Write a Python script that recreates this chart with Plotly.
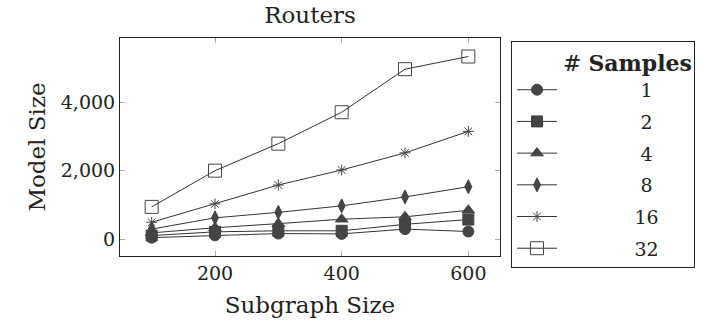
import plotly.graph_objects as go

subgraph_size = [100, 200, 300, 400, 500, 600]
samples_labels = ["1", "2", "4", "8", "16", "32"]
s1 = [40, 110, 160, 150, 290, 220]
s2 = [100, 210, 240, 240, 430, 570]
s4 = [180, 330, 450, 580, 650, 840]
s8 = [290, 620, 780, 970, 1230, 1530]
s16 = [490, 1030, 1580, 2020, 2520, 3150]
s32 = [940, 2000, 2790, 3710, 4970, 5340]
series = [s1, s2, s4, s8, s16, s32]

symbols = ["circle", "square", "triangle-up", "diamond-tall", "asterisk-open", "square-open"]
sizes = [11, 11, 11, 10, 9, 13]
FONT = "DejaVu Serif"
LINE = "#333333"
FILL = "#444444"
NB = "\u00a0"

fig = go.Figure()
for i, (lab, ys) in enumerate(zip(samples_labels, series)):
    pad = NB * (13 if len(lab) == 1 else 12)
    fig.add_trace(go.Scatter(
        x=subgraph_size, y=ys, mode="lines+markers",
        name=pad + lab,
        legendgroup=lab,
        line=dict(color=LINE, width=1),
        marker=dict(symbol=symbols[i], size=sizes[i], color=FILL,
                    line=dict(color=FILL, width=1)),
    ))

fig.update_layout(
    width=712, height=327,
    margin=dict(l=120, r=212, t=38, b=71),
    paper_bgcolor="white", plot_bgcolor="white",
    font=dict(family=FONT, size=19, color="#222222"),
    title=dict(text="Routers", x=(120 + 500) / 2 / 712, xanchor="center",
               y=1 - 15 / 327, yanchor="middle", font=dict(size=23)),
    showlegend=True,
    legend=dict(x=1.029, xanchor="left", y=0.985, yanchor="top",
                bordercolor="#222222", borderwidth=1, maxheight=300,
                title=dict(text=NB * 7 + "# <b>Samples</b>", font=dict(size=22)),
                traceorder="grouped", tracegroupgap=4,
                font=dict(size=19), itemwidth=40),
)
fig.update_xaxes(range=[50, 650], tickvals=[200, 400, 600],
                 ticks="inside", ticklen=5, tickcolor="#aaaaaa",
                 showline=True, linecolor="#222222", linewidth=1, mirror="ticks",
                 showgrid=False, zeroline=False,
                 title=dict(text="Subgraph Size", font=dict(size=23), standoff=14))
fig.update_yaxes(range=[-497, 5882], tickvals=[0, 2000, 4000], tickformat=",",
                 ticks="inside", ticklen=5, tickcolor="#aaaaaa",
                 showline=True, linecolor="#222222", linewidth=1, mirror="ticks",
                 showgrid=False, zeroline=False,
                 title=dict(text="Model Size", font=dict(size=23), standoff=8))

fig.write_html("out.html")
